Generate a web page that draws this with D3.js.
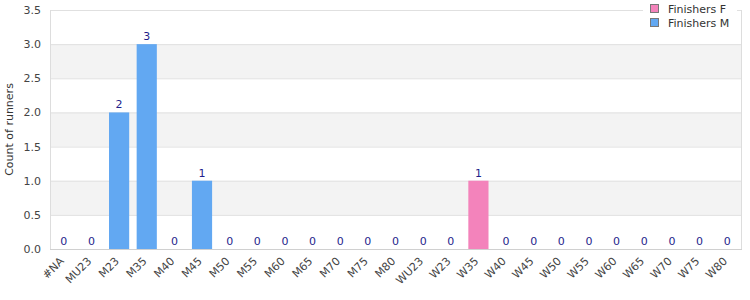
<!DOCTYPE html>
<html><head><meta charset="utf-8">
<script src="https://cdn.jsdelivr.net/npm/d3@7"></script>
<style>body{margin:0;background:#fff}svg{display:block}text{font-family:"DejaVu Sans",Verdana,sans-serif}</style>
</head><body><svg id="c" width="750" height="300"></svg>
<script>
const categories=["#NA","MU23","M23","M35","M40","M45","M50","M55","M60","M65","M70","M75","M80","WU23","W23","W35","W40","W45","W50","W55","W60","W65","W70","W75","W80"];
const finishersF=[0,0,0,0,0,0,0,0,0,0,0,0,0,0,0,1,0,0,0,0,0,0,0,0,0];
const finishersM=[0,0,2,3,0,1,0,0,0,0,0,0,0,0,0,0,0,0,0,0,0,0,0,0,0];
const yTicks=[0,0.5,1,1.5,2,2.5,3,3.5];
const seriesNames=["Finishers F","Finishers M"];
const colors={"Finishers F":"#f383bb","Finishers M":"#62a8f2"};

const svg=d3.select("#c");
const m={l:50,r:9,t:10,b:51};
const W=750,H=300;
const x=d3.scaleBand().domain(categories).range([m.l,W-m.r]).paddingInner(0.27).paddingOuter(0.135);
const y=d3.scaleLinear().domain([0,3.5]).range([H-m.b,m.t]);

// bands
for(let i=0;i<yTicks.length-1;i++){
  if(i%2===1){
    svg.append("rect").attr("x",m.l).attr("width",W-m.r-m.l)
      .attr("y",y(yTicks[i+1])).attr("height",y(yTicks[i])-y(yTicks[i+1])).attr("fill","#f3f3f3");
  }
}
// grid
svg.append("g").selectAll("line").data(yTicks).join("line")
  .attr("x1",m.l).attr("x2",W-m.r).attr("y1",d=>y(d)+0.5).attr("y2",d=>y(d)+0.5)
  .attr("stroke","#e0e0e0");
// frame
svg.append("line").attr("x1",W-m.r+0.5).attr("x2",W-m.r+0.5).attr("y1",m.t).attr("y2",H-m.b).attr("stroke","#ddd");
svg.append("line").attr("x1",m.l+0.5).attr("x2",m.l+0.5).attr("y1",m.t).attr("y2",H-m.b+1).attr("stroke","#ddd");
svg.append("line").attr("x1",m.l).attr("x2",W-m.r+1).attr("y1",H-m.b+0.5).attr("y2",H-m.b+0.5).attr("stroke","#d0d0d0");

// stacked bars
const rows=categories.map((c,i)=>({cat:c,"Finishers F":finishersF[i],"Finishers M":finishersM[i]}));
const stack=d3.stack().keys(seriesNames)(rows);
svg.append("g").selectAll("g").data(stack).join("g").attr("fill",d=>colors[d.key])
  .selectAll("rect").data(d=>d).join("rect")
  .attr("x",d=>x(d.data.cat)).attr("width",x.bandwidth())
  .attr("y",d=>y(d[1])).attr("height",d=>y(d[0])-y(d[1]));

// value labels
svg.append("g").selectAll("text").data(rows).join("text")
  .attr("x",d=>x(d.cat)+x.bandwidth()/2)
  .attr("y",d=>y(d["Finishers F"]+d["Finishers M"])-4)
  .attr("text-anchor","middle").attr("font-size",11).attr("fill","#1f1f8c")
  .text(d=>d["Finishers F"]+d["Finishers M"]);

// y axis
const yAxis=d3.axisLeft(y).tickValues(yTicks).tickFormat(d3.format(".1f")).tickSize(0).tickPadding(9);
const gy=svg.append("g").attr("transform",`translate(${m.l},0)`).call(yAxis);
gy.select(".domain").remove();
gy.selectAll("text").attr("font-size",11).attr("fill","#444").attr("font-family","DejaVu Sans,Verdana,sans-serif");

// x axis
const xAxis=d3.axisBottom(x).tickSize(0).tickPadding(0).tickFormat(()=>"");
const gx=svg.append("g").attr("transform",`translate(0,${H-m.b})`).call(xAxis);
gx.select(".domain").remove();
gx.selectAll(".tick text").remove();
gx.selectAll(".tick").append("text")
  .attr("font-size",11).attr("fill","#444")
  .attr("text-anchor","end")
  .attr("transform","translate(-2,10) rotate(-45)")
  .attr("dy","0.35em")
  .text(d=>d);

// y label
svg.append("text").attr("transform",`translate(9,${(m.t+H-m.b)/2}) rotate(-90)`)
  .attr("text-anchor","middle").attr("dy","0.35em").attr("font-size",11).attr("fill","#333").text("Count of runners");

// legend
const lg=svg.append("g");
lg.append("rect").attr("x",643).attr("y",0).attr("width",94).attr("height",34).attr("fill","#fff");
seriesNames.forEach((s,i)=>{
  lg.append("rect").attr("x",650.5).attr("y",4.5+i*14).attr("width",8).attr("height",8)
    .attr("fill",colors[s]).attr("stroke","#777");
  lg.append("text").attr("x",668).attr("y",9+i*14).attr("dy","0.35em").attr("font-size",11).attr("fill","#333").text(s);
});
</script></body></html>
